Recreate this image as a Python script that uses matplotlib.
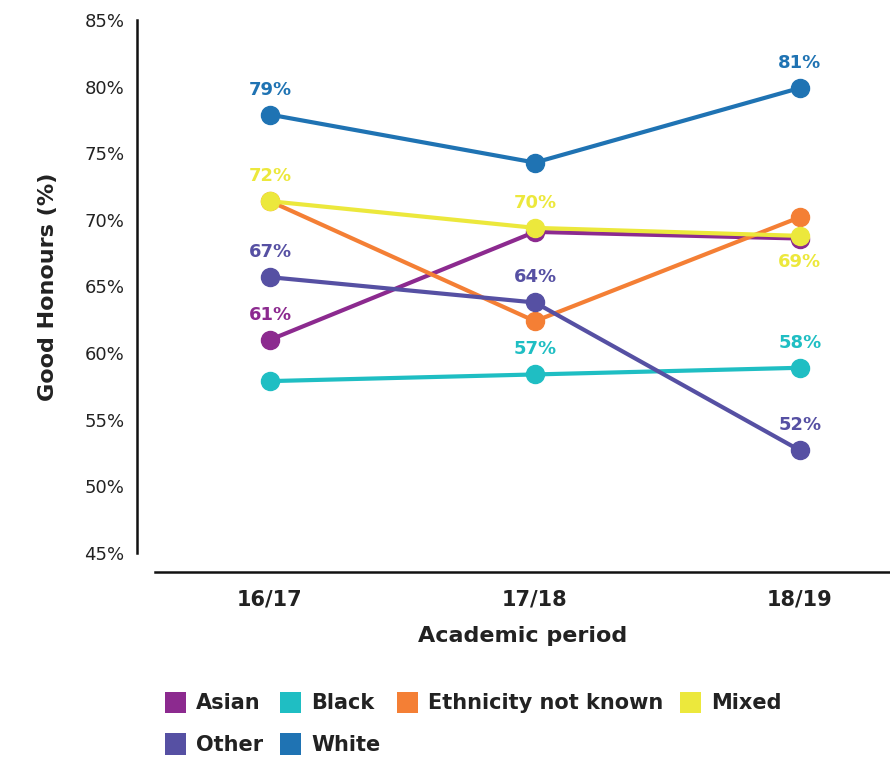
import matplotlib.pyplot as plt
from matplotlib.patches import Patch

plt.rcParams['font.family'] = ['DejaVu Sans']

periods = ['16/17', '17/18', '18/19']
groups = ['Asian', 'Black', 'Ethnicity not known', 'Mixed', 'Other', 'White']
colors = ['#8C2A8F', '#1FBEC3', '#F47F35', '#ECE83C', '#5650A3', '#1F73B3']

asian = [61.0, 69.1, 68.6]
black = [57.9, 58.4, 58.9]
not_known = [71.4, 62.4, 70.2]
mixed = [71.4, 69.4, 68.8]
other = [65.7, 63.8, 52.7]
white = [77.9, 74.3, 79.9]
values = [asian, black, not_known, mixed, other, white]

# point labels as shown (None = no label), and whether the label sits below
labels = [
    ['61%', None, None],
    [None, '57%', '58%'],
    [None, None, None],
    ['72%', '70%', '69%'],
    ['67%', '64%', '52%'],
    ['79%', None, '81%'],
]
below = [
    [False, False, False],
    [False, False, False],
    [False, False, False],
    [False, False, True],
    [False, False, False],
    [False, False, False],
]

fig = plt.figure(figsize=(8.9, 7.59), dpi=100)
ax = fig.add_axes([155 / 890, 1 - 553 / 759, 1 - 155 / 890, (553 - 20) / 759])

x = list(range(len(periods)))
for i, (g, c, v) in enumerate(zip(groups, colors, values)):
    ax.plot(x, v, color=c, lw=3, marker='o', ms=13, zorder=3 + i,
            solid_capstyle='round')
    for j, lab in enumerate(labels[i]):
        if lab is None:
            continue
        dy = -19 if below[i][j] else 18
        ax.annotate(lab, (x[j], v[j]), xytext=(0, dy), textcoords='offset points',
                    ha='center', va='center', fontsize=13, fontweight='bold',
                    color=c, zorder=20)

# spines first: set_position resets the ticks
for s in ['top', 'right']:
    ax.spines[s].set_visible(False)
ax.spines['left'].set_position(('outward', 13))
ax.spines['bottom'].set_position(('outward', 14))
ax.spines['left'].set_linewidth(1.8)
ax.spines['bottom'].set_linewidth(1.8)
ax.spines['left'].set_color('#111111')
ax.spines['bottom'].set_color('#111111')

ax.set_xlim(-0.434, 2.34)
ax.set_ylim(45, 85)
ax.tick_params(axis='both', length=0, colors='#222222')
ax.tick_params(axis='y', pad=9, labelsize=13)
ax.tick_params(axis='x', pad=12, labelsize=15)
ax.set_yticks(range(45, 86, 5))
ax.set_yticklabels([f'{t}%' for t in range(45, 86, 5)])
ax.set_xticks(x)
ax.set_xticklabels(periods, fontweight='bold')

ax.set_xlabel('Academic period', fontsize=16, fontweight='bold', labelpad=12,
              color='#222222')
ax.set_ylabel('Good Honours (%)', fontsize=16, fontweight='bold', labelpad=19,
              color='#222222')

order = [0, 4, 1, 5, 2, 3]
handles = [Patch(facecolor=colors[k], label=groups[k]) for k in order]
leg = fig.legend(handles=handles, ncol=4, loc='upper left',
                 bbox_to_anchor=(146 / 890, 1 - 673 / 759), frameon=False,
                 prop={'size': 15, 'weight': 'bold'}, handlelength=1.0,
                 handleheight=1.2, handletextpad=0.5, columnspacing=0.8,
                 labelspacing=0.95)
for t in leg.get_texts():
    t.set_color('#222222')

fig.savefig('out.png', dpi=100)
